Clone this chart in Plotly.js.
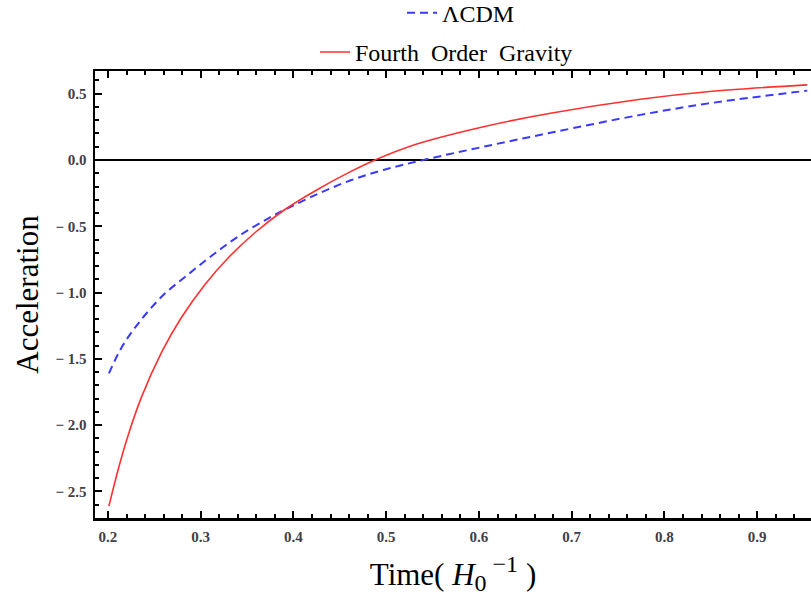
<!DOCTYPE html>
<html>
<head>
<meta charset="utf-8">
<script src="https://cdn.plot.ly/plotly-3.0.1.min.js"></script>
<style>
html,body{margin:0;padding:0;overflow:hidden;background:#fff;}
#plot{width:811px;height:602px;}
</style>
</head>
<body>
<div id="plot"></div>
<script>
// Time in units of 1/H0
const timeFOG  = [0.201, 0.211, 0.222, 0.236, 0.258, 0.279, 0.305, 0.330, 0.359, 0.390, 0.425, 0.461, 0.488, 0.533, 0.605, 0.677, 0.774, 0.846, 0.954];
const accelFOG = [-2.61, -2.334, -2.07, -1.79, -1.448, -1.19, -0.935, -0.735, -0.545, -0.377, -0.226, -0.09, 0.0, 0.12, 0.251, 0.352, 0.458, 0.515, 0.566];

const timeLCDM  = [0.201, 0.215, 0.233, 0.258, 0.287, 0.315, 0.344, 0.373, 0.390, 0.425, 0.461, 0.497, 0.540, 0.605, 0.677, 0.774, 0.846, 0.954];
const accelLCDM = [-1.61, -1.41, -1.23, -1.03, -0.86, -0.705, -0.56, -0.44, -0.377, -0.26, -0.155, -0.075, 0.0, 0.10, 0.205, 0.34, 0.425, 0.523];

const xTickVals = [0.2, 0.3, 0.4, 0.5, 0.6, 0.7, 0.8, 0.9];
const xTickText = ["0.2", "0.3", "0.4", "0.5", "0.6", "0.7", "0.8", "0.9"];
const yTickVals = [0.5, 0.0, -0.5, -1.0, -1.5, -2.0, -2.5];
const yTickText = ["0.5", "0.0", "\u2212 0.5", "\u2212 1.0", "\u2212 1.5", "\u2212 2.0", "\u2212 2.5"];

const serif = "Liberation Serif, Times New Roman, serif";

const traces = [
  {
    x: timeLCDM, y: accelLCDM, mode: "lines", name: "\u039BCDM",
    line: {color: "#3a3aff", width: 2, dash: "8px,5px", shape: "spline", smoothing: 1},
    legend: "legend"
  },
  {
    x: timeFOG, y: accelFOG, mode: "lines", name: "Fourth\u00a0 Order\u00a0 Gravity",
    line: {color: "#ff3030", width: 1.6, shape: "spline", smoothing: 1},
    legend: "legend2"
  }
];

const axisCommon = {
  showgrid: false,
  showline: true,
  linecolor: "#000",
  linewidth: 2.5,
  ticks: "inside",
  ticklen: 7,
  tickwidth: 2,
  tickcolor: "#000",
  tickfont: {family: serif, size: 15, color: "#404048", weight: "bold"},
  ticklabelstandoff: 3
};

const layout = {
  width: 811, height: 602,
  margin: {l: 95, r: 0, t: 71, b: 84, autoexpand: false},
  paper_bgcolor: "#fff", plot_bgcolor: "#fff",
  showlegend: true,
  xaxis: Object.assign({}, axisCommon, {
    range: [0.186, 0.958],
    mirror: "allticks",
    tickmode: "array", tickvals: xTickVals, ticktext: xTickText,
    minor: {dtick: 0.02, tick0: 0, ticks: "inside", ticklen: 4, tickwidth: 2, tickcolor: "#000", showgrid: false},
    zeroline: false,
    title: {text: "Time( <i>H</i><sub><span style='font-size:24px'>0</span></sub><sup><span style='font-size:24px'> \u22121</span></sup> )", font: {family: serif, size: 31, color: "#000"}, standoff: 20}
  }),
  yaxis: Object.assign({}, axisCommon, {
    range: [-2.70, 0.671],
    mirror: false,
    tickmode: "array", tickvals: yTickVals, ticktext: yTickText,
    minor: {dtick: 0.1, tick0: 0, ticks: "inside", ticklen: 4, tickwidth: 2, tickcolor: "#000", showgrid: false},
    zeroline: true, zerolinecolor: "#000", zerolinewidth: 1.2,
    title: {text: "Acceleration", font: {family: serif, size: 31, color: "#000"}, standoff: 8}
  }),
  legend: {
    x: 0.4288, xanchor: "left", y: 0.978, yref: "container", yanchor: "middle",
    font: {family: serif, size: 24, color: "#000"},
    bgcolor: "rgba(0,0,0,0)", itemwidth: 30
  },
  legend2: {
    x: 0.3073, xanchor: "left", y: 0.913, yref: "container", yanchor: "middle",
    font: {family: serif, size: 24, color: "#000"},
    bgcolor: "rgba(0,0,0,0)", itemwidth: 30
  }
};

Plotly.newPlot("plot", traces, layout, {displayModeBar: false, staticPlot: true});
</script>
</body>
</html>
